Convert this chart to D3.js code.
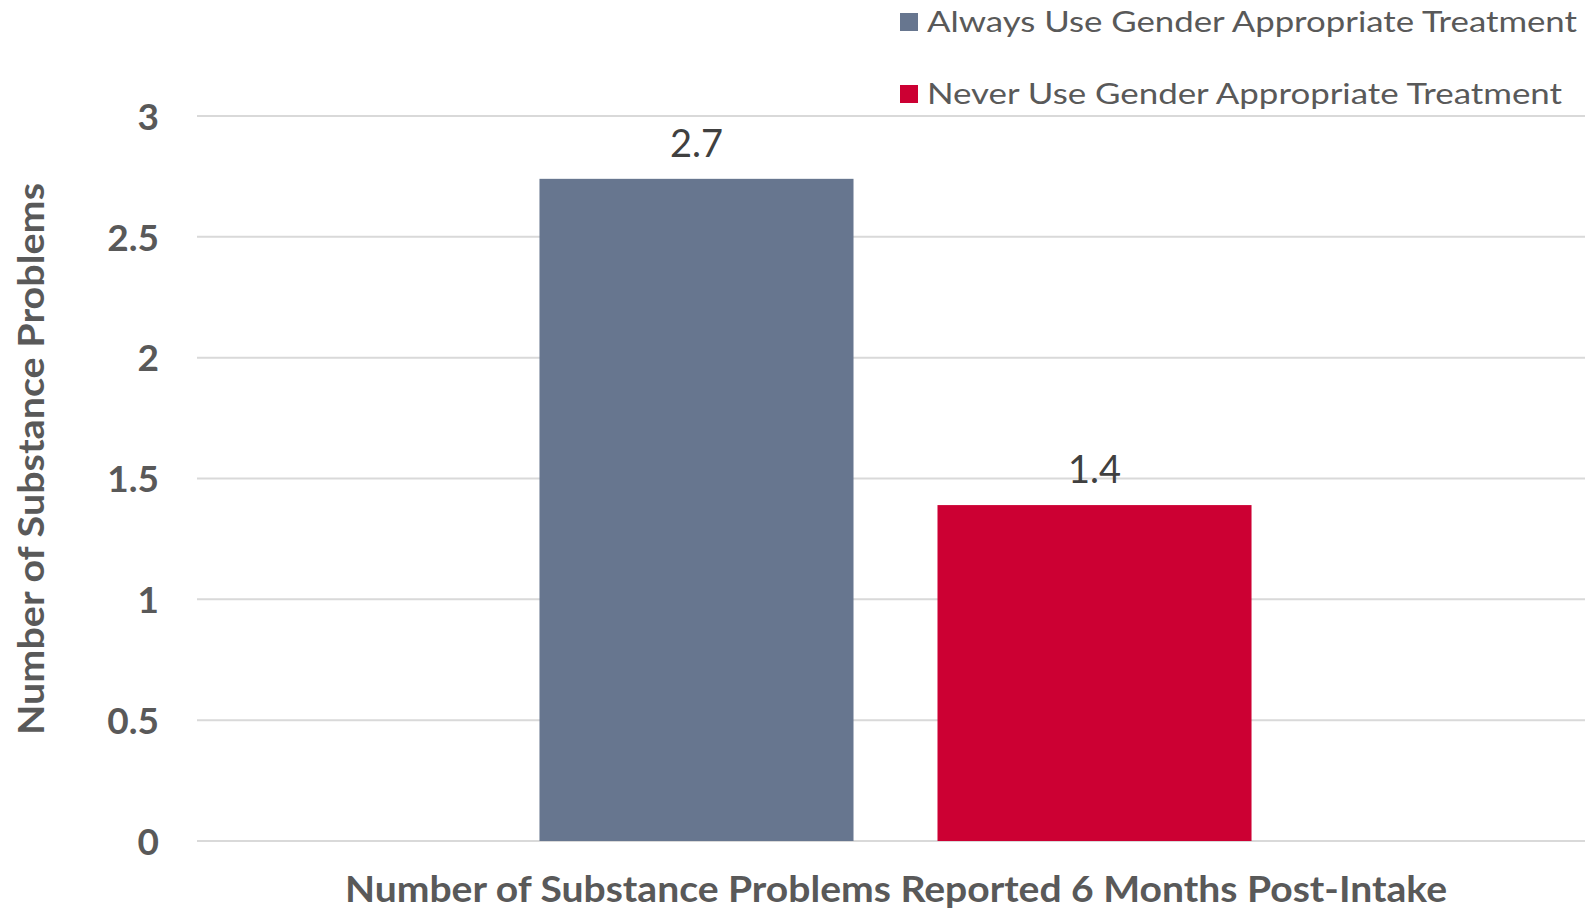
<!DOCTYPE html>
<html>
<head>
<meta charset="utf-8">
<script src="https://cdn.jsdelivr.net/npm/d3@7"></script>
<style>
  html, body { margin: 0; padding: 0; background: #ffffff; }
  svg { display: block; font-family: "Lato", "Open Sans", sans-serif; }
</style>
</head>
<body>
<svg id="chart" width="1585" height="909"></svg>
<script>
// Chart data
const categories = ["Number of Substance Problems Reported 6 Months Post-Intake"];
const seriesNames = ["Always Use Gender Appropriate Treatment", "Never Use Gender Appropriate Treatment"];
const seriesValues = [2.74, 1.39];
const seriesColors = ["#67768f", "#cc0033"];
const yTicks = [0, 0.5, 1, 1.5, 2, 2.5, 3];
const yAxisTitle = "Number of Substance Problems";

const svg = d3.select("#chart");
const W = 1585, H = 909;
const plot = { left: 197, right: 1594, top: 116, bottom: 841 };

const y = d3.scaleLinear().domain([0, 3]).range([plot.bottom, plot.top]);

const x0 = d3.scaleBand()
  .domain(categories)
  .range([plot.left, plot.right])
  .paddingInner(0.4903)
  .paddingOuter(0.24515);

const x1 = d3.scaleBand()
  .domain(seriesNames)
  .range([0, x0.bandwidth()])
  .paddingInner(0.211)
  .paddingOuter(0);

// Gridlines
svg.append("g")
  .selectAll("line")
  .data(yTicks)
  .join("line")
  .attr("x1", plot.left)
  .attr("x2", W)
  .attr("y1", d => y(d))
  .attr("y2", d => y(d))
  .attr("stroke", "#d9d9d9")
  .attr("stroke-width", 2);

// Y axis tick labels
const yAxis = d3.axisLeft(y).tickValues(yTicks).tickSize(0).tickPadding(0).tickFormat(d3.format("~g"));
const gy = svg.append("g").attr("transform", `translate(159,0)`).call(yAxis);
gy.select(".domain").remove();
gy.selectAll("text")
  .attr("fill", "#595959")
  .attr("font-size", 37)
  .attr("font-weight", 700)
  .attr("font-family", "Lato, sans-serif")
  .attr("dy", "0.36em");

// Bars
const data = seriesNames.map((name, i) => ({ name, value: seriesValues[i], color: seriesColors[i] }));
const g = svg.append("g").attr("transform", `translate(${x0(categories[0])},0)`);
g.selectAll("rect")
  .data(data)
  .join("rect")
  .attr("x", d => x1(d.name))
  .attr("width", x1.bandwidth())
  .attr("y", d => y(d.value))
  .attr("height", d => y(0) - y(d.value))
  .attr("fill", d => d.color);

// Value labels
g.selectAll("text.value")
  .data(data)
  .join("text")
  .attr("class", "value")
  .attr("x", d => x1(d.name) + x1.bandwidth() / 2)
  .attr("y", d => y(d.value) - 22)
  .attr("text-anchor", "middle")
  .attr("fill", "#404040")
  .attr("font-size", 38)
  .text(d => d3.format(".1f")(d.value));

// X axis category label
svg.append("text")
  .attr("x", 896)
  .attr("y", 902)
  .attr("text-anchor", "middle")
  .attr("fill", "#595959")
  .attr("font-size", 37)
  .attr("font-weight", 700)
  .attr("textLength", 1102)
  .attr("lengthAdjust", "spacingAndGlyphs")
  .text(categories[0]);

// Y axis title
svg.append("text")
  .attr("transform", "translate(44,459) rotate(-90)")
  .attr("text-anchor", "middle")
  .attr("fill", "#595959")
  .attr("font-size", 37)
  .attr("font-weight", 700)
  .attr("textLength", 552)
  .attr("lengthAdjust", "spacingAndGlyphs")
  .text(yAxisTitle);

// Legend
const legendWidths = [650, 635];
const legend = svg.append("g");
const legendRows = legend.selectAll("g")
  .data(data)
  .join("g")
  .attr("transform", (d, i) => `translate(900,${22 + i * 72})`);
legendRows.append("rect")
  .attr("x", 0)
  .attr("y", -9)
  .attr("width", 18)
  .attr("height", 18)
  .attr("fill", d => d.color);
legendRows.append("text")
  .attr("x", 27)
  .attr("y", 0)
  .attr("dy", "0.36em")
  .attr("fill", "#595959")
  .attr("font-size", 29)
  .attr("textLength", (d, i) => legendWidths[i])
  .attr("lengthAdjust", "spacingAndGlyphs")
  .text(d => d.name);
</script>
</body>
</html>
